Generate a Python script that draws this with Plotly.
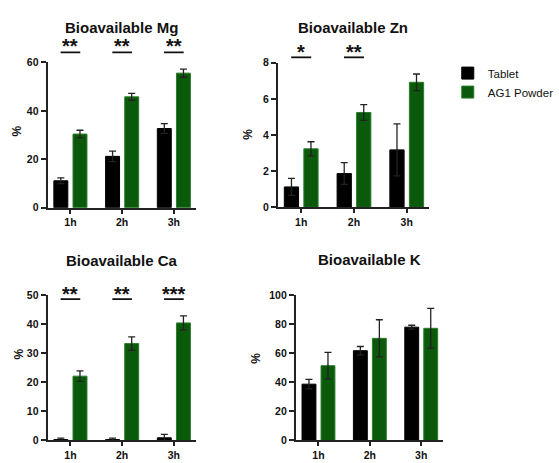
import plotly.graph_objects as go

hours = ["1h", "2h", "3h"]

mg_tablet = [11.1, 21.2, 32.7]
mg_tablet_err = [1.2, 2.2, 2.0]
mg_ag1 = [30.4, 45.8, 55.6]
mg_ag1_err = [1.6, 1.4, 1.7]
mg_sig = ["**", "**", "**"]

zn_tablet = [1.13, 1.87, 3.18]
zn_tablet_err = [0.47, 0.60, 1.44]
zn_ag1 = [3.24, 5.25, 6.92]
zn_ag1_err = [0.39, 0.44, 0.46]
zn_sig = ["*", "**", ""]

ca_tablet = [0.3, 0.3, 0.9]
ca_tablet_err = [0.5, 0.5, 1.2]
ca_ag1 = [22.1, 33.3, 40.4]
ca_ag1_err = [1.8, 2.3, 2.4]
ca_sig = ["**", "**", "***"]

k_tablet = [38.7, 61.7, 77.9]
k_tablet_err = [3.3, 2.9, 1.3]
k_ag1 = [51.4, 70.2, 77.1]
k_ag1_err = [9.1, 12.8, 13.7]
k_sig = ["", "", ""]

W, H = 559, 463
FONT = "Liberation Sans, Arial, Helvetica, sans-serif"
BLACK = "#000000"
GREEN = "#0b590b"
GREEN_EDGE = "#2a7d2a"
AXC = "#222222"

def px_x(p):
    return p / W

def px_y(p):
    return 1 - p / H

panels = [
    ("Bioavailable Mg", mg_tablet, mg_tablet_err, mg_ag1, mg_ag1_err, mg_sig, 60, 20,
     (48, 197), (58, 207), 22, 37, 47.7, 17, 128),
    ("Bioavailable Zn", zn_tablet, zn_tablet_err, zn_ag1, zn_ag1_err, zn_sig, 8, 2,
     (280, 432), (58.3, 206.7), 22, 43, 52.7, 249, 132),
    ("Bioavailable Ca", ca_tablet, ca_tablet_err, ca_ag1, ca_ag1_err, ca_sig, 50, 10,
     (48, 197), (296.7, 446), 261.5, 292, 301, 19, 357),
    ("Bioavailable K", k_tablet, k_tablet_err, k_ag1, k_ag1_err, k_sig, 100, 20,
     (298, 446), (296.7, 446), 260.5, 0, 0, 257, 362),
]

fig = go.Figure()
annotations = []
shapes = []
layout_axes = {}

for i, (title, tab, terr, ag, aerr, sig, ymax, dtick, xd, yd, ty, sy, ly, pctx, pcty) in enumerate(panels):
    n = "" if i == 0 else str(i + 1)
    xa, ya = "x" + n, "y" + n
    fig.add_trace(go.Bar(
        x=hours, y=tab, name="Tablet", xaxis=xa, yaxis=ya,
        marker=dict(color=BLACK, line=dict(color=BLACK, width=1)),
        width=0.27, offset=-0.32,
        error_y=dict(type="data", array=terr, color=AXC, thickness=1.3, width=3.5),
        showlegend=(i == 0),
    ))
    fig.add_trace(go.Bar(
        x=hours, y=ag, name="AG1 Powder", xaxis=xa, yaxis=ya,
        marker=dict(color=GREEN, line=dict(color=GREEN_EDGE, width=1)),
        width=0.27, offset=0.05,
        error_y=dict(type="data", array=aerr, color=AXC, thickness=1.3, width=3.5),
        showlegend=(i == 0),
    ))
    layout_axes["xaxis" + n] = dict(
        domain=[px_x(xd[0]), px_x(xd[1])], anchor=ya, type="category",
        range=[-0.44, 2.42], showline=True, linewidth=2, linecolor=AXC,
        ticks="outside", ticklen=4, tickwidth=1.5, tickcolor=AXC,
        showgrid=False, zeroline=False, fixedrange=True,
        tickfont=dict(family=FONT, size=10.5, color="#111", weight="bold"),
    )
    layout_axes["yaxis" + n] = dict(
        domain=[px_y(yd[1]), px_y(yd[0])], anchor=xa,
        range=[0, ymax], dtick=dtick, tick0=0, showline=True, linewidth=2, linecolor=AXC,
        ticks="outside", ticklen=5, tickwidth=1.5, tickcolor=AXC,
        showgrid=False, zeroline=False, fixedrange=True,
        tickfont=dict(family=FONT, size=10.5, color="#111", weight="bold"),
    )
    annotations.append(dict(
        text=title, xref=xa + " domain", x=0.5, yref="paper", y=px_y(ty),
        xanchor="center", yanchor="middle", showarrow=False,
        font=dict(family=FONT, size=15, color="#111", weight="bold"),
    ))
    annotations.append(dict(
        text="%", xref="paper", x=px_x(pctx), yref="paper", y=px_y(pcty),
        xanchor="center", yanchor="middle", showarrow=False, textangle=-90,
        font=dict(family=FONT, size=12, color="#111", weight="bold"),
    ))
    for j, s in enumerate(sig):
        if not s:
            continue
        annotations.append(dict(
            text=s, xref=xa, x=hours[j], yref="paper", y=px_y(sy + 4),
            xanchor="center", yanchor="middle", showarrow=False,
            font=dict(family=FONT, size=20, color="#111", weight="bold"),
        ))
        shapes.append(dict(
            type="line", xref=xa, yref="paper",
            x0=j - 0.19, x1=j + 0.19, y0=px_y(ly), y1=px_y(ly),
            line=dict(color="#111", width=1.8),
        ))

fig.update_layout(
    width=W, height=H,
    margin=dict(l=0, r=0, t=0, b=0),
    paper_bgcolor="white", plot_bgcolor="white",
    barmode="overlay",
    annotations=annotations, shapes=shapes,
    legend=dict(x=px_x(451), xanchor="left", y=px_y(54), yanchor="top",
                font=dict(family=FONT, size=11.5, color="#111"),
                bgcolor="rgba(0,0,0,0)"),
    **layout_axes,
)

fig.write_html(
    "out.html",
    config={"displayModeBar": False},
    post_script="document.body.style.margin='0';document.body.style.overflow='hidden';",
)
